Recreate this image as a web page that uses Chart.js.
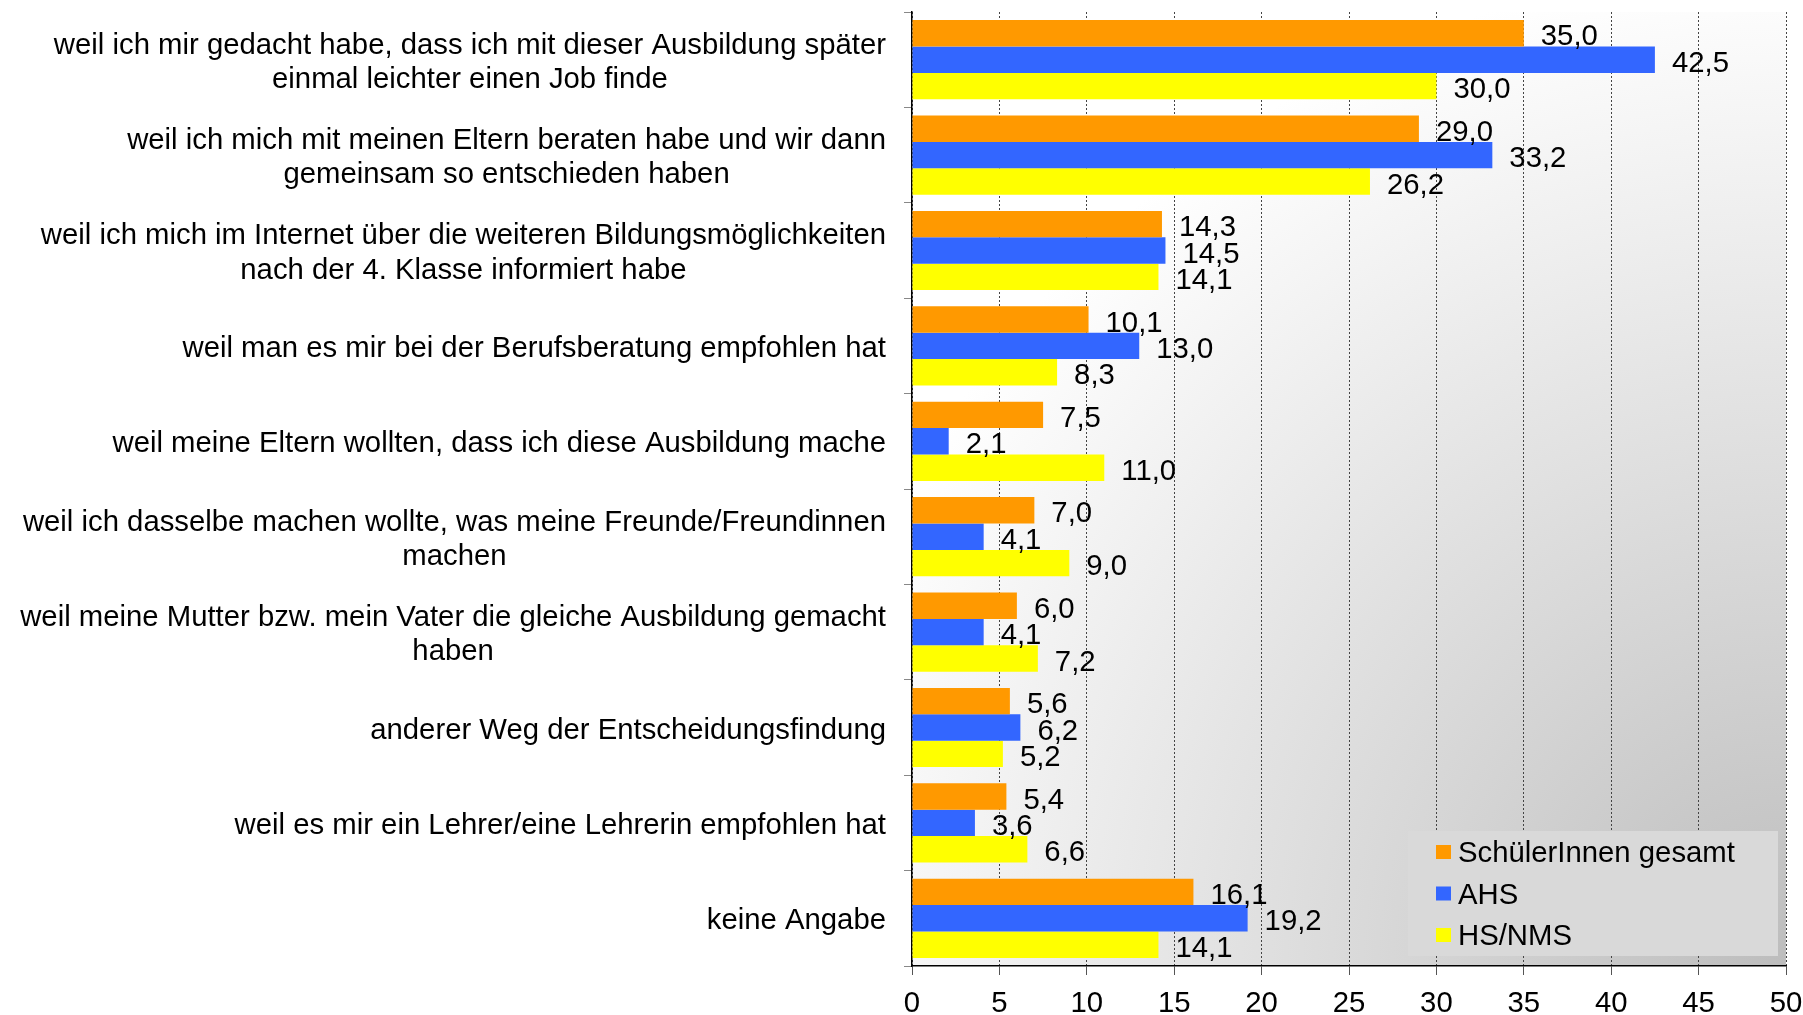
<!DOCTYPE html>
<html>
<head>
<meta charset="utf-8">
<script src="https://cdn.jsdelivr.net/npm/chart.js@4.4.1/dist/chart.umd.min.js"></script>
<style>
  html, body { margin: 0; padding: 0; background: #fff; }
  #wrap { width: 1803px; height: 1015px; }
</style>
</head>
<body>
<div id="wrap"><canvas id="chart" width="1803" height="1015"></canvas></div>
<script>
// ===== Data =====
const categories = [
  ["weil ich mir gedacht habe, dass ich mit dieser Ausbildung später", "einmal leichter einen Job finde"],
  ["weil ich mich mit meinen Eltern beraten habe und wir dann", "gemeinsam so entschieden haben"],
  ["weil ich mich im Internet über die weiteren Bildungsmöglichkeiten", "nach der 4. Klasse informiert habe"],
  ["weil man es mir bei der Berufsberatung empfohlen hat"],
  ["weil meine Eltern wollten, dass ich diese Ausbildung mache"],
  ["weil ich dasselbe machen wollte, was meine Freunde/Freundinnen", "machen"],
  ["weil meine Mutter bzw. mein Vater die gleiche Ausbildung gemacht", "haben"],
  ["anderer Weg der Entscheidungsfindung"],
  ["weil es mir ein Lehrer/eine Lehrerin empfohlen hat"],
  ["keine Angabe"]
];
const gesamt = [35.0, 29.0, 14.3, 10.1, 7.5, 7.0, 6.0, 5.6, 5.4, 16.1];
const ahs = [42.5, 33.2, 14.5, 13.0, 2.1, 4.1, 4.1, 6.2, 3.6, 19.2];
const hsnms = [30.0, 26.2, 14.1, 8.3, 11.0, 9.0, 7.2, 5.2, 6.6, 14.1];
const seriesNames = ["SchülerInnen gesamt", "AHS", "HS/NMS"];
const xTicks = [0, 5, 10, 15, 20, 25, 30, 35, 40, 45, 50];

const FONT = '"Liberation Sans", Arial, Helvetica, sans-serif';
const FSIZE = 29.3;
const colors = ["#ff9900", "#3366ff", "#ffff00"];

// background gradient (white top-left, grey towards bottom-right)
const bgPlugin = {
  id: "bg",
  beforeDraw(chart) {
    const { ctx, chartArea: a } = chart;
    const g = ctx.createRadialGradient(a.right, a.bottom, 0, a.right, a.bottom, 1000);
    g.addColorStop(0, "#bdbdbd");
    g.addColorStop(1, "#ffffff");
    ctx.save();
    ctx.fillStyle = g;
    ctx.fillRect(a.left, a.top, a.right - a.left, a.bottom - a.top);
    ctx.restore();
  }
};

// category labels, value labels, legend box
const textPlugin = {
  id: "texts",
  afterDatasetsDraw(chart) {
    const { ctx, chartArea: a } = chart;
    const yScale = chart.scales.y;
    ctx.save();
    ctx.fillStyle = "#000";
    ctx.font = FSIZE + "px " + FONT;
    ctx.textBaseline = "middle";
    ctx.textAlign = "center";

    // category labels (lines centred to each other, block right-aligned)
    const rightEdge = a.left - 26;
    const lh = 34.5;
    categories.forEach((lines, i) => {
      const cy = yScale.getPixelForValue(i);
      const maxW = Math.max(...lines.map(l => ctx.measureText(l).width));
      const cx = rightEdge - maxW / 2;
      lines.forEach((l, j) => {
        ctx.fillText(l, cx, cy + (j - (lines.length - 1) / 2) * lh + 3);
      });
    });

    // value labels
    ctx.textAlign = "left";
    chart.data.datasets.forEach((ds, d) => {
      chart.getDatasetMeta(d).data.forEach((bar, i) => {
        ctx.fillText(ds.data[i].toFixed(1).replace(".", ","), bar.x + 17, bar.y + 4);
      });
    });

    // legend
    const bw = 370, bh = 125;
    const bx = a.right - 8 - bw, by = a.bottom - 10 - bh;
    ctx.fillStyle = "#d9d9d9";
    ctx.fillRect(bx, by, bw, bh);
    chart.data.datasets.forEach((ds, d) => {
      const y = by + 21 + d * 41.5;
      ctx.fillStyle = ds.backgroundColor;
      ctx.fillRect(bx + 28, y - 7, 15, 14);
      ctx.fillStyle = "#000";
      ctx.fillText(ds.label, bx + 50, y + 2);
    });
    ctx.restore();
  }
};

new Chart(document.getElementById("chart"), {
  type: "bar",
  data: {
    labels: categories.map(c => c.join(" ")),
    datasets: [
      { label: seriesNames[0], data: gesamt, backgroundColor: colors[0] },
      { label: seriesNames[1], data: ahs, backgroundColor: colors[1] },
      { label: seriesNames[2], data: hsnms, backgroundColor: colors[2] }
    ]
  },
  options: {
    indexAxis: "y",
    responsive: false,
    animation: false,
    devicePixelRatio: 1,
    layout: { padding: { top: 12, right: 17, left: 0, bottom: 0 } },
    datasets: { bar: { categoryPercentage: 0.83, barPercentage: 1.0 } },
    plugins: { legend: { display: false }, tooltip: { enabled: false } },
    scales: {
      x: {
        min: 0,
        max: 50,
        afterBuildTicks: s => { s.ticks = xTicks.map(v => ({ value: v })); },
        afterFit: s => { s.height = 49; s.paddingLeft = 0; s.paddingRight = 0; },
        grid: { color: "#444", lineWidth: 1, tickLength: 9, tickColor: "#555" },
        border: { display: true, color: "#000", width: 1.5, dash: [2, 2] },
        ticks: { color: "#000", font: { size: FSIZE, family: FONT }, padding: 11, maxRotation: 0 }
      },
      y: {
        afterFit: s => { s.width = 912; s.paddingTop = 0; s.paddingBottom = 0; },
        grid: { drawOnChartArea: false, tickLength: 8, color: "#888" },
        border: { display: true, color: "#000", width: 1.5 },
        ticks: { display: false }
      }
    }
  },
  plugins: [bgPlugin, textPlugin]
});
</script>
</body>
</html>
